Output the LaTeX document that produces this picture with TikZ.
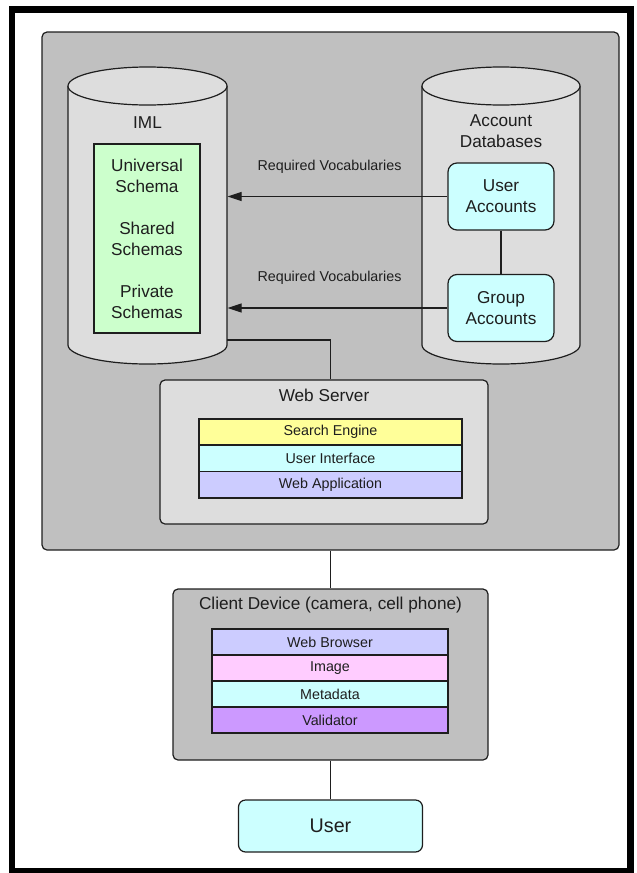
\documentclass[tikz,border=0pt]{standalone}
\usepackage{fontspec}
\setmainfont{Liberation Sans}
\usetikzlibrary{arrows.meta,calc}
\definecolor{panelgray}{HTML}{C0C0C0}
\definecolor{paleGray}{HTML}{DDDDDD}
\definecolor{mint}{HTML}{CCFFCC}
\definecolor{aqua}{HTML}{CCFFFF}
\definecolor{lemon}{HTML}{FFFF99}
\definecolor{lavender}{HTML}{CCCCFF}
\definecolor{pinkish}{HTML}{FFCCFF}
\definecolor{orchid}{HTML}{CC99FF}
\definecolor{ink}{HTML}{1E1E1E}

% database cylinder: left x, right x, top centre y, bottom centre y, half height of the caps
\newcommand\dbcylinder[5]{%
  \pgfmathsetmacro\cylc{(#1+#2)/2}%
  \pgfmathsetmacro\cylr{(#2-#1)/2}%
  \fill[paleGray] (#1,#3) rectangle (#2,#4);
  \fill[paleGray] (\cylc,#4) ellipse [x radius=\cylr, y radius=#5];
  \draw (#1,#3) -- (#1,#4) arc [start angle=180, end angle=0, x radius=\cylr, y radius=#5] -- (#2,#3);
  \draw[fill=paleGray] (\cylc,#3) ellipse [x radius=\cylr, y radius=#5];
}

\begin{document}
\begin{tikzpicture}[x=1pt,y=-1pt,color=ink,line width=1.2pt,
  bigfont/.style={font=\fontsize{17.2}{21}\selectfont},
  smallfont/.style={font=\fontsize{14.3}{17}\selectfont},
  layer/.style={draw, line width=1.5pt, smallfont, inner sep=0pt},
  acct/.style={draw, fill=aqua, rounded corners=9pt, minimum width=106pt,
    minimum height=67pt, bigfont, align=center, inner sep=0pt},
  vocab/.style={-{Triangle[length=14pt,width=9pt]}},
  holder/.style={inner sep=0pt, draw=none},
]
\useasboundingbox (0,0) rectangle (637,873);

% page frame
\draw[line width=6.5pt, black] (12,9.5) rectangle (630.5,871);

% server side panel
\node[draw, fill=panelgray, rounded corners=5pt, minimum width=577pt,
  minimum height=518pt, inner sep=0pt] (panel) at (330.5,291) {};

% IML database
\dbcylinder{68}{227}{86}{345}{19}
\node[holder, minimum width=159pt, minimum height=297pt] (iml) at (147.5,215.5) {};
\node[bigfont] (imltitle) at (147.5,123) {IML};
\node[draw, fill=mint, minimum width=106pt, minimum height=189pt, inner sep=0pt]
  (schemas) at (147,238.5) {};
\node[bigfont, align=center] (schematext) at (schemas.center)
  {Universal\\Schema\\[21pt]Shared\\Schemas\\[21pt]Private\\Schemas};

% account databases
\dbcylinder{422}{580}{86}{345}{19}
\node[holder, minimum width=158pt, minimum height=297pt] (accdb) at (501,215.5) {};
\node[bigfont, align=center] (acctitle) at (501,131) {Account\\Databases};
\node[acct] (ua) at (501,196.5) {User\\Accounts};
\node[acct] (ga) at (501,308) {Group\\Accounts};
\draw (ua) -- (ga);

% vocabularies flowing to the IML
\draw[vocab] (ua.west) -- (ua.west -| iml.east);
\draw[vocab] (ga.west) -- (ga.west -| iml.east);
\node[smallfont] (voc1) at (329.5,167) {Required Vocabularies};
\node[smallfont] (voc2) at (329.5,278) {Required Vocabularies};

% web server
\node[draw, fill=paleGray, rounded corners=5pt, minimum width=328pt,
  minimum height=144pt, inner sep=0pt] (ws) at (324,452) {};
\node[bigfont] (wstitle) at (324,395) {Web Server};
\node[layer, fill=lemon, minimum width=263pt, minimum height=26.3pt] (se) at (330.5,432) {Search Engine};
\node[layer, fill=aqua, minimum width=263pt, minimum height=26.3pt] (ui) at (330.5,458.3) {User Interface};
\node[layer, fill=lavender, minimum width=263pt, minimum height=26.3pt] (wa) at (330.5,484.6) {Web Application};

\coordinate (imlport) at (227,340);
\draw (imlport) -| (se.north |- ws.north);

% client device
\node[draw, fill=panelgray, rounded corners=5pt, minimum width=315pt,
  minimum height=171pt, inner sep=0pt] (cd) at (330.5,674.5) {};
\node[bigfont] (cdtitle) at (330.5,605) {Client Device (camera, cell phone)};
\node[layer, fill=lavender, minimum width=236pt, minimum height=26pt] (wb) at (330,642) {Web Browser};
\node[layer, fill=pinkish, minimum width=236pt, minimum height=26pt] (img) at (330,668) {Image};
\node[layer, fill=aqua, minimum width=236pt, minimum height=26pt] (md) at (330,694) {Metadata};
\node[layer, fill=orchid, minimum width=236pt, minimum height=26pt] (val) at (330,720) {Validator};

\draw (panel.south) -- (cd.north);

% user
\node[draw, fill=aqua, rounded corners=7pt, minimum width=184pt,
  minimum height=52pt, inner sep=0pt, font=\fontsize{19.7}{24}\selectfont] (user) at (330.5,826) {User};
\draw (cd.south) -- (user.north);
\end{tikzpicture}
\end{document}
